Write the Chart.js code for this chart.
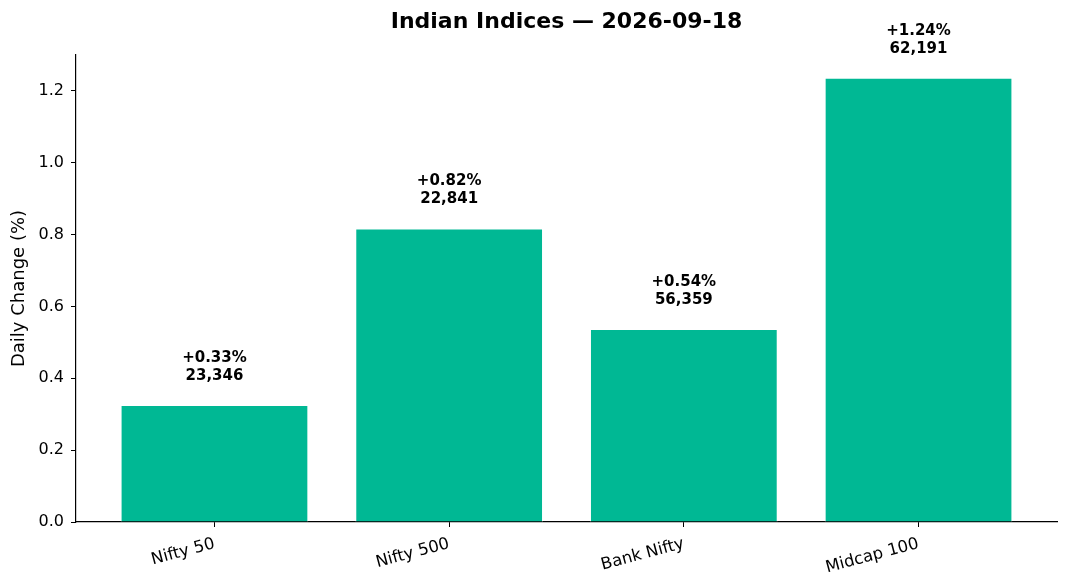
<!DOCTYPE html>
<html>
<head>
<meta charset="utf-8">
<script src="https://cdn.jsdelivr.net/npm/chart.js@4"></script>
<style>
  html, body { margin: 0; padding: 0; background: #fff; }
  #wrap { width: 1068px; height: 588px; }
</style>
</head>
<body>
<div id="wrap"><canvas id="idxChart" width="1068" height="588"></canvas></div>
<script>
// ===== DATA =====
const indexNames = ["Nifty 50", "Nifty 500", "Bank Nifty", "Midcap 100"];
const dailyChange = [0.326, 0.817, 0.537, 1.237];
const closeValues = [23346, 22841, 56359, 62191];
const yTicks = [0.0, 0.2, 0.4, 0.6, 0.8, 1.0, 1.2];
const chartTitle = "Indian Indices \u2014 2026-09-18";

const FONT = "'DejaVu Sans', sans-serif";
const barColor = "#00b894";

// title centred over the plot area (not the whole canvas)
const plotTitle = {
  id: "plotTitle",
  afterDraw(chart) {
    const { ctx, chartArea } = chart;
    ctx.save();
    ctx.fillStyle = "#000";
    ctx.font = "bold 22px " + FONT;
    ctx.textAlign = "center";
    ctx.textBaseline = "middle";
    ctx.fillText(chartTitle, (chartArea.left + chartArea.right) / 2, 22);
    ctx.restore();
  },
};

// bar value labels (percent + close) drawn above each bar
const barLabels = {
  id: "barLabels",
  afterDatasetsDraw(chart) {
    const ctx = chart.ctx;
    const meta = chart.getDatasetMeta(0);
    ctx.save();
    ctx.fillStyle = "#000";
    ctx.font = "bold 15px " + FONT;
    ctx.textAlign = "center";
    ctx.textBaseline = "middle";
    meta.data.forEach((bar, i) => {
      const pct = (dailyChange[i] >= 0 ? "+" : "") + dailyChange[i].toFixed(2) + "%";
      const close = closeValues[i].toLocaleString("en-US");
      ctx.fillText(pct, bar.x, bar.y - 47);
      ctx.fillText(close, bar.x, bar.y - 29);
    });
    ctx.restore();
  },
};

window.addEventListener("load", () => {
  const ctx = document.getElementById("idxChart").getContext("2d");
  new Chart(ctx, {
    type: "bar",
    data: {
      datasets: [
        {
          label: "Daily Change",
          data: dailyChange.map((v, i) => ({ x: i, y: v })),
          backgroundColor: barColor,
          borderColor: "#ffffff",
          borderWidth: 1,
          barPercentage: 0.8,
          categoryPercentage: 1.0,
        },
      ],
    },
    options: {
      responsive: false,
      animation: false,
      devicePixelRatio: 1,
      layout: { padding: { top: 55, right: 11, left: 0, bottom: 0 } },
      scales: {
        x: {
          type: "linear",
          offset: false,
          min: -0.59,
          max: 3.59,
          afterBuildTicks: (axis) => {
            axis.ticks = indexNames.map((_, i) => ({ value: i }));
          },
          afterFit: (axis) => { axis.height = 66; },
          ticks: {
            callback: (v) => indexNames[v] ?? "",
            color: "#000",
            font: { family: FONT, size: 16.5 },
            minRotation: 15,
            maxRotation: 15,
            padding: 7,
          },
          grid: {
            display: true,
            offset: false,
            drawOnChartArea: false,
            drawTicks: true,
            tickLength: 5,
            color: "#000",
          },
          border: { display: true, color: "#000", width: 1.2 },
        },
        y: {
          min: 0,
          max: 1.3,
          afterBuildTicks: (axis) => {
            axis.ticks = yTicks.map((v) => ({ value: v }));
          },
          afterFit: (axis) => { axis.width = 76; },
          ticks: {
            callback: (v) => v.toFixed(1),
            color: "#000",
            font: { family: FONT, size: 16 },
            padding: 7,
          },
          grid: {
            display: true,
            drawOnChartArea: false,
            drawTicks: true,
            tickLength: 5,
            color: "#000",
          },
          border: { display: true, color: "#000", width: 1.2 },
          title: {
            display: true,
            text: "Daily Change (%)",
            color: "#000",
            font: { family: FONT, size: 18 },
            padding: { top: 9, bottom: 6 },
          },
        },
      },
      plugins: {
        legend: { display: false },
        tooltip: { enabled: false },
        title: { display: false },
      },
    },
    plugins: [barLabels, plotTitle],
  });
});
</script>
</body>
</html>
